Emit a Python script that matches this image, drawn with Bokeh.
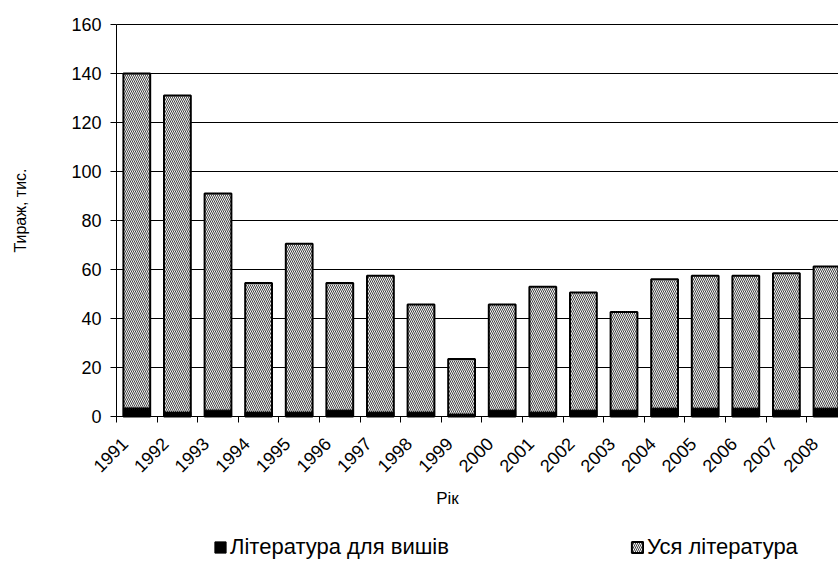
import math
from bokeh.plotting import figure
from bokeh.models import FixedTicker, Legend, LegendItem, Range1d, ColumnDataSource, Label
from bokeh.embed import file_html
from bokeh.resources import INLINE

years = ["1991", "1992", "1993", "1994", "1995", "1996", "1997", "1998", "1999",
         "2000", "2001", "2002", "2003", "2004", "2005", "2006", "2007", "2008"]
total = [140, 131, 91, 54.5, 70.5, 54.5, 57.5, 45.7, 23.5,
         45.7, 53, 50.6, 42.7, 56, 57.5, 57.5, 58.5, 61.2]
vyshi = [3.5, 1.8, 2.6, 1.8, 1.8, 2.6, 1.8, 1.8, 1.0,
         2.6, 1.8, 2.6, 2.6, 3.4, 3.4, 3.4, 2.6, 3.4]
y_ticks = [0, 20, 40, 60, 80, 100, 120, 140, 160]

name_all = "Уся література"
name_vyshi = "Література для вишів"
x_title = "Рік"
y_title = "Тираж, тис."

# ---- layout constants (pixels) ----
W, H = 838, 581
AX_LEFT, AX_TOP, AX_BOTTOM = 116, 24, 416     # plotting area of the original
CAT_W = 40.6                                   # px per category
PX_PER_UNIT = (AX_BOTTOM - AX_TOP) / 160.0

x_start = -AX_LEFT / CAT_W
x_end = (W - AX_LEFT) / CAT_W
y_start = -(H - AX_BOTTOM) / PX_PER_UNIT
y_end = 160 + AX_TOP / PX_PER_UNIT

n = len(years)
xc = [i + 0.5 for i in range(n)]
src = ColumnDataSource(dict(x=xc, total=total, vyshi=vyshi))

FONT = "Liberation Sans"

p = figure(width=W, height=H, output_backend="svg", toolbar_location=None,
           x_range=Range1d(x_start, x_end), y_range=Range1d(y_start, y_end),
           min_border_left=0, min_border_right=0, min_border_top=0,
           min_border_bottom=0)
p.outline_line_color = None
p.background_fill_color = "white"
p.border_fill_color = "white"
p.xgrid.visible = False
p.ygrid.visible = False

# horizontal gridlines over the plotting area only
p.segment(x0=[0] * len(y_ticks), x1=[x_end] * len(y_ticks), y0=y_ticks, y1=y_ticks,
          line_color="black", line_width=1)

r_all = p.vbar(x="x", top="total", width=0.66, bottom=0, source=src,
               fill_color="#f4f4f4", line_color="black", line_width=2,
               hatch_pattern="\\", hatch_color="#444444", hatch_scale=4,
               hatch_weight=1)
r_vyshi = p.vbar(x="x", top="vyshi", width=0.66, bottom=0, source=src,
                 fill_color="black", line_color="black", line_width=1)

# y axis (drawn at x = 0)
ya = p.yaxis[0]
ya.fixed_location = 0
ya.bounds = (0, 160)
ya.ticker = FixedTicker(ticks=y_ticks)
ya.axis_line_color = "black"
ya.major_tick_out = 6
ya.major_tick_in = 0
ya.minor_tick_line_color = None
ya.major_label_standoff = 9
ya.major_label_text_font = FONT
ya.major_label_text_font_size = "18px"
ya.major_label_text_color = "black"

# x axis (drawn at y = 0): labels slightly right of category boundaries,
# tick marks at the boundaries
xa = p.xaxis[0]
xa.fixed_location = 0
xa.bounds = (0, x_end)
label_pos = [i + 0.2 for i in range(n)]
xa.ticker = FixedTicker(ticks=label_pos, minor_ticks=list(range(n + 1)))
xa.major_label_overrides = {pos: yr for pos, yr in zip(label_pos, years)}
xa.major_label_orientation = math.pi / 4
xa.major_tick_out = 0
xa.major_tick_in = 0
xa.minor_tick_out = 6
xa.minor_tick_in = 0
xa.minor_tick_line_color = "black"
xa.axis_line_color = "black"
xa.major_label_standoff = 18
xa.major_label_text_font = FONT
xa.major_label_text_font_size = "18px"
xa.major_label_text_color = "black"

# axis titles
p.add_layout(Label(x=(447 - AX_LEFT) / CAT_W, y=-(498 - AX_BOTTOM) / PX_PER_UNIT,
                   text=x_title, text_font=FONT, text_font_size="17px",
                   text_color="black", text_align="center", text_baseline="middle"))
p.add_layout(Label(x=(20 - AX_LEFT) / CAT_W, y=(AX_BOTTOM - 210) / PX_PER_UNIT,
                   text=y_title, angle=math.pi / 2, text_font=FONT,
                   text_font_size="16px", text_color="black",
                   text_align="center", text_baseline="middle"))

def make_legend(item, x_px):
    return Legend(items=[item], location=(x_px, H - 560), orientation="horizontal",
                  border_line_color=None, background_fill_alpha=0,
                  padding=0, margin=0, spacing=0,
                  glyph_width=14, glyph_height=14, label_standoff=3,
                  label_text_font=FONT, label_text_font_size="22px",
                  label_text_color="black", label_height=22)

p.add_layout(make_legend(LegendItem(label=name_vyshi, renderers=[r_vyshi]), 213), "center")
p.add_layout(make_legend(LegendItem(label=name_all, renderers=[r_all]), 630), "center")

open("out.html", "w").write(file_html(p, INLINE))
